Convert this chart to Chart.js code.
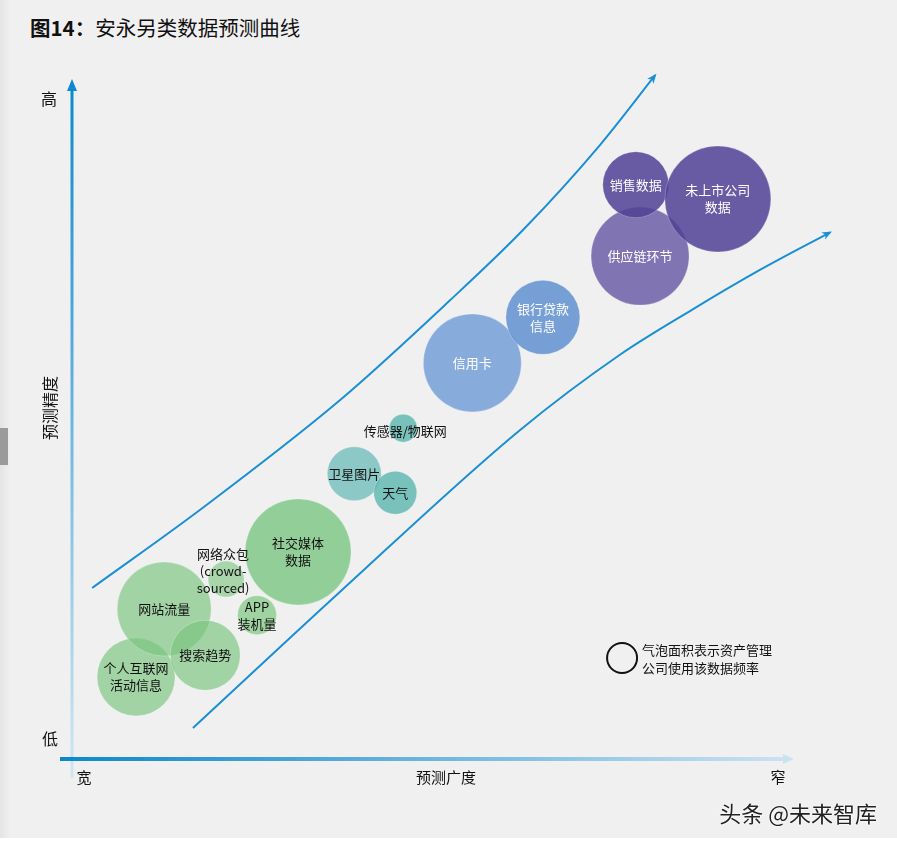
<!DOCTYPE html>
<html lang="zh">
<head>
<meta charset="UTF-8">
<title>安永另类数据预测曲线</title>
<script src="https://cdn.jsdelivr.net/npm/chart.js@4.4.0/dist/chart.umd.min.js"></script>
<style>
  html, body { margin: 0; padding: 0; background: #fff; }
  #wrap { position: relative; width: 897px; height: 844px; overflow: hidden;
          font-family: "Noto Sans CJK SC", "Noto Sans", sans-serif; }
  #bg { position: absolute; left: 0; top: 0; width: 897px; height: 838px; background: #f0f0f0; }
  #edge { position: absolute; left: 0; top: 0; width: 10px; height: 838px;
          background: linear-gradient(to right, #e4e4e4, #f0f0f0); }
  #tab { position: absolute; left: 0; top: 428px; width: 8px; height: 37px; background: #9b9b9b; }
  #title { position: absolute; left: 30px; top: 12px; font-size: 20.5px; color: #111; }
  #title b { font-weight: 700; }
  #mark { position: absolute; right: 20px; top: 796px; font-size: 22px; color: #222;
          text-shadow: 0 0 2px #fff, 0 0 2px #fff; }
  canvas { position: absolute; left: 0; top: 0; }
</style>
</head>
<body>
<div id="wrap">
  <div id="bg"></div>
  <div id="edge"></div>
  <div id="tab"></div>
  <div id="title"><b>图14：</b>安永另类数据预测曲线</div>
  <canvas id="bubble-chart" width="897" height="844"></canvas>
  <div id="mark">头条 @未来智库</div>
</div>

<script>
    // bubbles: x = 预测广度 (0 宽 .. 100 窄), y = 预测精度 (0 低 .. 100 高), r = 使用频率 (bubble radius)
    const names = ["个人互联网\n活动信息", "网站流量", "搜索趋势", "网络众包\n(crowd-\nsourced)", "APP\n装机量",
                   "社交媒体\n数据", "卫星图片", "天气", "传感器/物联网", "信用卡", "银行贷款\n信息",
                   "供应链环节", "销售数据", "未上市公司\n数据"];
    const breadth   = [8.9, 12.8, 18.5, 21.4, 25.7, 31.4, 39.2, 44.9, 46.0, 55.6, 65.4, 78.9, 78.3, 89.7];
    const precision = [12.2, 22.2, 15.4, 26.6, 21.3, 30.6, 42.1, 39.3, 48.8, 58.4, 65.1, 74.1, 84.6, 82.5];
    const frequency = [39, 47, 35, 18, 19.5, 53, 27, 21.5, 14, 49, 37, 49, 33, 53];

    // the two boundary curves
    const upperX = [2.8, 17.8, 37.2, 52.5, 62.6, 73.3, 81.0];
    const upperY = [25.3, 36.8, 52.9, 67.6, 77.9, 90.4, 100.7];
    const lowerX = [16.8, 37.2, 62.2, 76.1, 86.1, 95.6, 105.3];
    const lowerY = [4.7, 24.7, 48.5, 59.6, 66.2, 72.1, 77.6];

    const bubbleColors = [
        "rgba(120,195,125,0.65)", "rgba(120,195,125,0.65)", "rgba(120,195,125,0.65)",
        "rgba(150,208,152,0.8)", "rgba(140,204,142,0.8)", "rgba(138,203,144,0.92)",
        "rgba(112,190,186,0.78)", "rgba(100,184,178,0.85)", "rgba(100,184,178,0.85)",
        "rgba(120,162,216,0.88)", "rgba(104,150,210,0.9)",
        "rgba(100,85,162,0.8)", "rgba(80,65,150,0.85)", "rgba(80,65,150,0.85)"
    ];
    const textColors = ["#111", "#111", "#111", "#111", "#111", "#111", "#111", "#111", "#111",
                        "#fff", "#fff", "#fff", "#fff", "#fff"];

    const FONT = '"Noto Sans CJK SC", sans-serif';

    function toPoints(xs, ys) {
        return xs.map((x, i) => ({x: x, y: ys[i]}));
    }

    const bubblePoints = breadth.map((x, i) => ({x: x, y: precision[i], r: frequency[i]}));

    // axes with gradient arrows and their labels
    const axesPlugin = {
        id: 'axesPlugin',
        beforeDatasetsDraw(chart) {
            const ctx = chart.ctx;
            const xs = chart.scales.x, ys = chart.scales.y;
            const x0 = xs.getPixelForValue(0), x1 = xs.getPixelForValue(100);
            const y0 = ys.getPixelForValue(0), y1 = ys.getPixelForValue(100);
            ctx.save();

            // y axis
            let g = ctx.createLinearGradient(0, y0 + 18, 0, y1);
            g.addColorStop(0, "#d2e6f2");
            g.addColorStop(1, "#0a87cf");
            ctx.strokeStyle = g;
            ctx.fillStyle = g;
            ctx.lineWidth = 3;
            ctx.beginPath();
            ctx.moveTo(x0, y0 + 18);
            ctx.lineTo(x0, y1 + 10);
            ctx.stroke();
            ctx.beginPath();
            ctx.moveTo(x0, y1 - 1);
            ctx.lineTo(x0 - 5, y1 + 11);
            ctx.lineTo(x0 + 5, y1 + 11);
            ctx.closePath();
            ctx.fill();

            // x axis
            g = ctx.createLinearGradient(x0 - 12, 0, x1, 0);
            g.addColorStop(0, "#0a87cf");
            g.addColorStop(1, "#cbe3f1");
            ctx.strokeStyle = g;
            ctx.fillStyle = g;
            ctx.lineWidth = 4;
            ctx.beginPath();
            ctx.moveTo(x0 - 12, y0 - 1);
            ctx.lineTo(x1 - 6, y0 - 1);
            ctx.stroke();
            ctx.beginPath();
            ctx.moveTo(x1 + 2, y0 - 1);
            ctx.lineTo(x1 - 9, y0 - 6);
            ctx.lineTo(x1 - 9, y0 + 4);
            ctx.closePath();
            ctx.fill();

            // labels
            ctx.fillStyle = "#111";
            ctx.textAlign = "center";
            ctx.textBaseline = "middle";
            ctx.font = "16px " + FONT;
            ctx.fillText("高", x0 - 23, y1 + 19);
            ctx.fillText("低", x0 - 22, y0 - 21);
            ctx.font = "15px " + FONT;
            ctx.fillText("宽", x0 + 12, y0 + 17);
            ctx.fillText("预测广度", (x0 + x1) / 2 + 14, y0 + 17);
            ctx.fillText("窄", x1 - 14, y0 + 17);
            ctx.save();
            ctx.translate(x0 - 22, (y0 + y1) / 2 - 12);
            ctx.rotate(-Math.PI / 2);
            ctx.font = "16px " + FONT;
            ctx.fillText("预测精度", 0, 0);
            ctx.restore();

            ctx.restore();
        }
    };

    // bubble labels, curve arrow heads and size legend
    const labelPlugin = {
        id: 'labelPlugin',
        afterDatasetsDraw(chart) {
            const ctx = chart.ctx;
            ctx.save();

            // arrow heads on the curves
            [1, 2].forEach(di => {
                const pts = chart.getDatasetMeta(di).data;
                const last = pts[pts.length - 1];
                let px = last.cp1x, py = last.cp1y;
                if (px === undefined || (Math.abs(px - last.x) < 0.5 && Math.abs(py - last.y) < 0.5)) {
                    px = pts[pts.length - 2].x;
                    py = pts[pts.length - 2].y;
                }
                const a = Math.atan2(last.y - py, last.x - px);
                ctx.fillStyle = "#1a8fd4";
                ctx.beginPath();
                ctx.moveTo(last.x + 2 * Math.cos(a), last.y + 2 * Math.sin(a));
                ctx.lineTo(last.x - 8 * Math.cos(a) + 4 * Math.sin(a), last.y - 8 * Math.sin(a) - 4 * Math.cos(a));
                ctx.lineTo(last.x - 5 * Math.cos(a), last.y - 5 * Math.sin(a));
                ctx.lineTo(last.x - 8 * Math.cos(a) - 4 * Math.sin(a), last.y - 8 * Math.sin(a) + 4 * Math.cos(a));
                ctx.closePath();
                ctx.fill();
            });

            // text in the bubbles
            ctx.textAlign = "center";
            ctx.textBaseline = "middle";
            ctx.font = "13px " + FONT;
            const meta = chart.getDatasetMeta(0);
            meta.data.forEach((el, i) => {
                const lines = names[i].split("\n");
                let cy = el.y;
                let cx = el.x;
                if (lines.length === 3) { cy = el.y - 8; cx = el.x - 3; }
                if (names[i] === "传感器/物联网") { cy = el.y + 3; cx = el.x + 2; }
                ctx.fillStyle = textColors[i];
                const lh = 17;
                lines.forEach((t, k) => {
                    ctx.fillText(t, cx, cy + (k - (lines.length - 1) / 2) * lh);
                });
            });

            // legend
            const lx = chart.scales.x.getPixelForValue(76.4);
            const ly = chart.scales.y.getPixelForValue(15.0);
            ctx.strokeStyle = "#111";
            ctx.lineWidth = 2;
            ctx.beginPath();
            ctx.arc(lx, ly, 15, 0, Math.PI * 2);
            ctx.stroke();
            ctx.fillStyle = "#111";
            ctx.textAlign = "left";
            ctx.font = "13px " + FONT;
            ctx.fillText("气泡面积表示资产管理", lx + 20, ly - 8);
            ctx.fillText("公司使用该数据频率", lx + 20, ly + 10);

            ctx.restore();
        }
    };

    new Chart(document.getElementById("bubble-chart"), {
        type: 'bubble',
        data: {
            datasets: [{
                label: "数据类别",
                data: bubblePoints,
                backgroundColor: bubbleColors,
                borderColor: "rgba(255,255,255,0.25)",
                borderWidth: 1,
                hoverRadius: 0,
                clip: false
            }, {
                type: 'line',
                label: "上边界",
                data: toPoints(upperX, upperY),
                borderColor: "#1a8fd4",
                borderWidth: 2,
                pointRadius: 0,
                fill: false,
                cubicInterpolationMode: 'monotone',
                clip: false
            }, {
                type: 'line',
                label: "下边界",
                data: toPoints(lowerX, lowerY),
                borderColor: "#1a8fd4",
                borderWidth: 2,
                pointRadius: 0,
                fill: false,
                cubicInterpolationMode: 'monotone',
                clip: false
            }]
        },
        options: {
            responsive: false,
            animation: false,
            events: [],
            layout: {padding: {left: 72, right: 105, top: 80, bottom: 84}},
            scales: {
                x: {type: 'linear', min: 0, max: 100, display: false},
                y: {type: 'linear', min: 0, max: 100, display: false}
            },
            plugins: {
                legend: {display: false},
                title: {display: false},
                tooltip: {enabled: false}
            }
        },
        plugins: [axesPlugin, labelPlugin]
    });
</script>
</body>
</html>
